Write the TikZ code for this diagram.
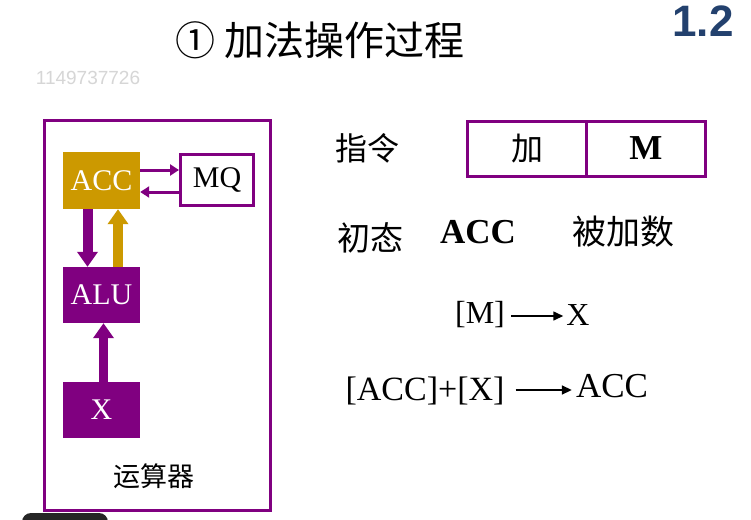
\documentclass[tikz,border=0pt]{standalone}
\usepackage{fontspec}
\setmainfont{Liberation Serif}
\newfontfamily\cjk{Noto Sans CJK SC}
\newfontfamily\sansf{Liberation Sans}
\usetikzlibrary{arrows.meta,calc}
\definecolor{pur}{RGB}{128,0,128}
\definecolor{accgold}{RGB}{204,153,0}
\definecolor{navyb}{RGB}{35,65,110}
\newcommand{\fsz}[1]{\fontsize{#1}{#1}\selectfont}
\begin{document}
\begin{tikzpicture}[x=1pt,y=-1pt,
  fillbox/.style={minimum width=77, minimum height=56, inner sep=0, text=white, font=\fsz{30}},
  linebox/.style={draw=pur, line width=3, fill=white, inner sep=0},
  thinarrow/.style={pur, line width=3, -{Triangle[length=9,width=11]}},
  thickarrow/.style={line width=10, -{Triangle[length=15,width=20]}},
  txt/.style={inner sep=0, text=black},
  flow/.style={line width=1.6, -{Triangle[length=10,width=9]}}
]
\useasboundingbox (0,0) rectangle (751,519);
\fill[white] (0,0) rectangle (751,519);

% watermark and page number
\node[txt, text=black!16, font=\sansf\fsz{19}] (wm) at (88,78) {1149737726};
\node[txt, text=navyb, font=\sansf\bfseries\fsz{44}] (pg) at (703,21) {1.2};

% title
\node[txt, font=\cjk\fsz{40}] (title) at (320,40) {① 加法操作过程};

% arithmetic unit
\node[draw=pur, line width=3, minimum width=226, minimum height=390, inner sep=0] (outer) at (157.5,315.5) {};
\node[fillbox, fill=accgold, minimum height=57] (acc) at (101.5,180.5) {ACC};
\node[linebox, minimum width=73, minimum height=51, font=\fsz{30}] (mq) at (217,180) {MQ};
\node[fillbox, fill=pur] (alu) at (101.5,295) {ALU};
\node[fillbox, fill=pur] (xr) at (101.5,410) {X};
\node[txt, font=\cjk\fsz{27}] (ysq) at (154,476) {运算器};

\draw[thinarrow] (acc.east |- 0,170) -- (mq.west |- 0,170);
\draw[thinarrow] (mq.west |- 0,192) -- (acc.east |- 0,192);
\draw[thickarrow, pur] ([xshift=-14]acc.south) -- ([xshift=-14]alu.north);
\draw[thickarrow, accgold] ([xshift=16.5]alu.north) -- ([xshift=16.5]acc.south);
\draw[thickarrow, pur, line width=9] ([xshift=2]xr.north) -- ([xshift=2]alu.south);

% right side
\node[txt, font=\cjk\fsz{32}] (zl) at (367,148) {指令};
\node[linebox, minimum width=119, minimum height=55, font=\cjk\fsz{32}] (op) at (527,148.5) {加};
\node[linebox, minimum width=119, minimum height=55, font=\bfseries\fsz{35}] (addr) at (646,148.5) {M};

\node[txt, font=\cjk\fsz{33}] (ct) at (370,238) {初态};
\node[txt, font=\bfseries\fsz{35}] (cacc) at (478,232) {ACC};
\node[txt, font=\cjk\fsz{34}] (bjs) at (623,232) {被加数};

\node[txt, font=\fsz{32}] (m) at (480,315) {[M]};
\node[txt, font=\fsz{32}] (xx) at (578,315) {X};
\draw[flow] ([xshift=6]m.east |- 0,316) -- ([xshift=-3]xx.west |- 0,316);

\node[txt, font=\fsz{34}] (sum) at (425,391) {[ACC]+[X]};
\node[txt, font=\fsz{35}] (racc) at (612,386) {ACC};
\draw[flow] ([xshift=11]sum.east |- 0,390) -- ([xshift=-4]racc.west |- 0,390);

% overlay at bottom left
\fill[black!85, rounded corners=9] (22,513) rectangle (108,535);
\end{tikzpicture}
\end{document}
